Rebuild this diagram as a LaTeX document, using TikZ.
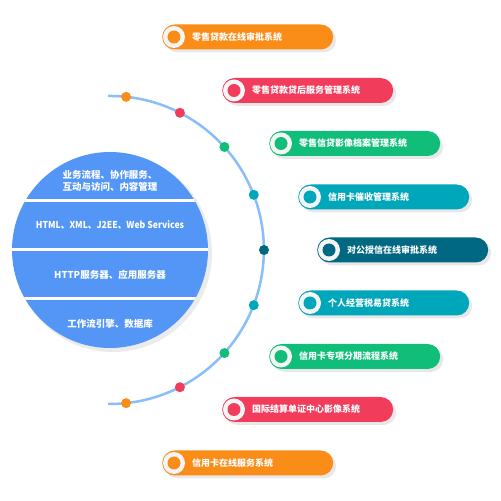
\documentclass[tikz,border=0pt]{standalone}
\usepackage{fontspec}
\setmainfont{Noto Sans CJK SC}
\usetikzlibrary{shadows}

\definecolor{sysorange}{RGB}{250,140,24}
\definecolor{sysred}{RGB}{242,60,92}
\definecolor{sysgreen}{RGB}{16,190,122}
\definecolor{systeal}{RGB}{0,166,186}
\definecolor{sysdark}{RGB}{0,104,130}
\definecolor{discblue}{RGB}{84,150,246}
\definecolor{arcblue}{RGB}{138,190,250}

\tikzset{
  sysbox/.style={rectangle, rounded corners=12.5pt, minimum width=171pt, minimum height=25pt,
    inner sep=0pt, anchor=west,
    drop shadow={shadow xshift=3pt, shadow yshift=-3pt, opacity=0.18}},
  systext/.style={anchor=west, text=white, font=\bfseries\fontsize{9}{11}\selectfont, inner sep=0pt},
  layertext/.style={text=white, font=\bfseries\fontsize{9.5}{12.5}\selectfont, align=center, inner sep=0pt}
}

\begin{document}
\begin{tikzpicture}[x=1pt,y=1pt]

\useasboundingbox (0,0) rectangle (501,501);

% disc with four layers
\fill[black, opacity=0.08] (113,248) circle (99);
\begin{scope}
\clip (110,251) circle (98);
\fill[discblue] (10,150) rectangle (210,352);
\draw[white, line width=3pt] (10,300) -- (210,300);
\draw[white, line width=3pt] (10,251) -- (210,251);
\draw[white, line width=3pt] (10,202) -- (210,202);
\end{scope}

\node[layertext] (layer1) at (110,320) {业务流程、协作服务、\\互动与访问、内容管理};
\node[layertext, xscale=0.91] (layer2) at (110,276) {HTML、XML、J2EE、Web Services};
\node[layertext] (layer3) at (110,226) {HTTP服务器、应用服务器};
\node[layertext] (layer4) at (110,177) {工作流引擎、数据库};

% the arc and its dots
\draw[arcblue, line width=2.5pt] (108,405) arc[radius=154, start angle=90.7, end angle=-90.7];

\foreach \ang/\col in {84/sysorange, 63/sysred, 42/sysgreen, 21/systeal, 0/sysdark,
                       -21/systeal, -42/sysgreen, -63/sysred, -84/sysorange}
  \fill[\col] (110,251) ++(\ang:154) circle (5);

% the nine systems
\foreach \i/\lx/\ly/\col/\txt in {
    1/162/464/sysorange/零售贷款在线审批系统,
    2/222/410.5/sysred/零售贷款贷后服务管理系统,
    3/269/357.5/sysgreen/零售信贷影像档案管理系统,
    4/298/304/systeal/信用卡催收管理系统,
    5/317/251/sysdark/对公授信在线审批系统,
    6/298/198/systeal/个人经营税易贷系统,
    7/269/144.5/sysgreen/信用卡专项分期流程系统,
    8/222/91.5/sysred/国际结算单证中心影像系统,
    9/162/38/sysorange/信用卡在线服务系统}
{
  \node[sysbox, fill=\col] (sys\i) at (\lx,\ly) {};
  \fill[white!92!gray] ([xshift=12pt]sys\i.west) circle (11);
  \fill[\col] ([xshift=12pt]sys\i.west) circle (6.5);
  \node[systext] (name\i) at ([xshift=30pt]sys\i.west) {\txt};
}

\end{tikzpicture}
\end{document}
